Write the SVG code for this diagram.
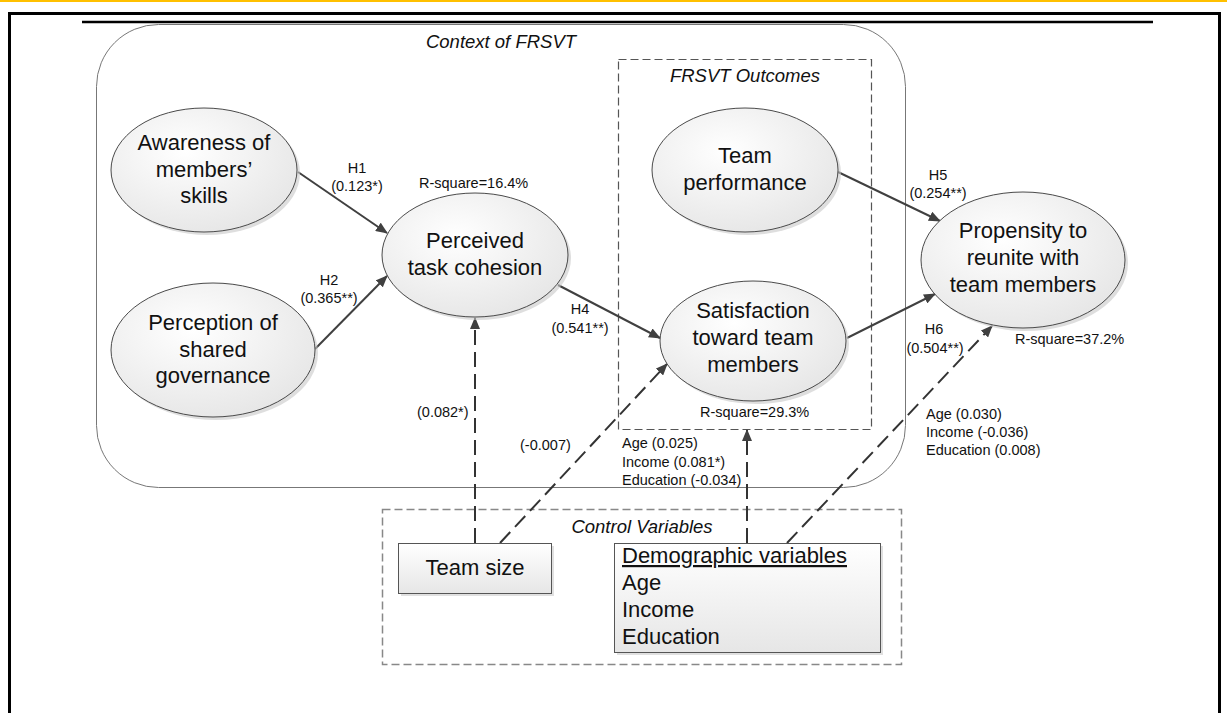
<svg xmlns="http://www.w3.org/2000/svg" width="1227" height="713" viewBox="0 0 1227 713">
<style>
text{font-family:"Liberation Sans",Arial,sans-serif;fill:#111}
.big{font-size:22px;text-anchor:middle}
.sm{font-size:14.5px}
.smc{font-size:14.5px;text-anchor:middle}
.ital{font-size:18.5px;font-style:italic;text-anchor:middle}
.ell{fill:url(#eg);stroke:#4a4a4a;stroke-width:1}
.shd{fill:#c8c8c8;opacity:0.6}
.box{fill:url(#bg);stroke:#555;stroke-width:1}
.solid{stroke:#404040;stroke-width:2;fill:none;marker-end:url(#ah)}
.dash{stroke:#333;stroke-width:2;fill:none;stroke-dasharray:15,7;marker-end:url(#ah)}
</style>
<defs>
<radialGradient id="eg" cx="0.4" cy="0.35" r="0.75">
<stop offset="0" stop-color="#ffffff"/>
<stop offset="1" stop-color="#e4e4e4"/>
</radialGradient>
<linearGradient id="bg" x1="0" y1="0" x2="0" y2="1">
<stop offset="0" stop-color="#ffffff"/>
<stop offset="1" stop-color="#e6e6e6"/>
</linearGradient>
<marker id="ah" viewBox="0 0 12 10" refX="11" refY="5" markerWidth="12" markerHeight="10" orient="auto" markerUnits="userSpaceOnUse">
<path d="M0,0 L12,5 L0,10 z" fill="#404040"/>
</marker>
</defs>
<rect x="0" y="0" width="1227" height="713" fill="#fff"/>
<rect x="0" y="0" width="1227" height="2" fill="#ffc000"/>
<rect x="9.5" y="13.5" width="1210" height="720" fill="none" stroke="#000" stroke-width="3"/>
<line x1="82" y1="22" x2="1153" y2="22" stroke="#000" stroke-width="2.5"/>

<g id="context">
<rect x="96.5" y="24.5" width="809" height="463" rx="62" ry="62" fill="none" stroke="#777" stroke-width="1"/>
<text class="ital" x="501" y="48">Context of FRSVT</text>
</g>
<g id="outcomes">
<rect x="618.5" y="59.5" width="253" height="370" fill="none" stroke="#555" stroke-width="1.2" stroke-dasharray="8,4"/>
<text class="ital" x="745" y="82">FRSVT Outcomes</text>
</g>
<g id="control">
<rect x="382.5" y="509.5" width="519" height="155" fill="none" stroke="#888" stroke-width="1.5" stroke-dasharray="8,4"/>
<text class="ital" x="642" y="533">Control Variables</text>
</g>

<g id="connectors">
<line class="solid" x1="298" y1="172" x2="387" y2="233"/>
<line class="solid" x1="315" y1="349" x2="387" y2="276"/>
<line class="solid" x1="558" y1="285" x2="660" y2="338"/>
<line class="solid" x1="838" y1="172" x2="940" y2="221"/>
<line class="solid" x1="847" y1="338" x2="935" y2="294"/>
<line class="dash" x1="475" y1="543" x2="475" y2="318"/>
<line class="dash" x1="500" y1="543" x2="667" y2="364"/>
<line class="dash" x1="747" y1="543" x2="747" y2="430"/>
<line class="dash" x1="787" y1="543" x2="992" y2="326"/>
<text class="smc" x="357" y="173">H1</text>
<text class="smc" x="357" y="191">(0.123*)</text>
<text class="smc" x="329" y="285">H2</text>
<text class="smc" x="329" y="303">(0.365**)</text>
<text class="smc" x="580" y="314">H4</text>
<text class="smc" x="580" y="333">(0.541**)</text>
<text class="smc" x="938" y="180">H5</text>
<text class="smc" x="938" y="198">(0.254**)</text>
<text class="smc" x="934" y="334">H6</text>
<text class="smc" x="935" y="353">(0.504**)</text>
<text class="sm" x="417" y="417">(0.082*)</text>
<text class="sm" x="520" y="450">(-0.007)</text>
<text class="sm" x="622" y="448">Age (0.025)</text>
<text class="sm" x="622" y="467">Income (0.081*)</text>
<text class="sm" x="622" y="485">Education (-0.034)</text>
<text class="sm" x="926" y="419">Age (0.030)</text>
<text class="sm" x="926" y="437">Income (-0.036)</text>
<text class="sm" x="926" y="455">Education (0.008)</text>
</g>

<g id="awareness">
<ellipse class="shd" cx="207" cy="173" rx="93" ry="62"/>
<ellipse class="ell" cx="204" cy="170" rx="93" ry="62"/>
<text class="big" x="204" y="150">Awareness of</text>
<text class="big" x="204" y="177">members’</text>
<text class="big" x="204" y="203">skills</text>
</g>
<g id="perception">
<ellipse class="shd" cx="216" cy="353" rx="102" ry="67"/>
<ellipse class="ell" cx="213" cy="350" rx="102" ry="67"/>
<text class="big" x="213" y="330">Perception of</text>
<text class="big" x="213" y="357">shared</text>
<text class="big" x="213" y="383">governance</text>
</g>
<g id="cohesion">
<ellipse class="shd" cx="478" cy="258" rx="93" ry="62"/>
<ellipse class="ell" cx="475" cy="255" rx="93" ry="62"/>
<text class="sm" x="419" y="188">R-square=16.4%</text>
<text class="big" x="475" y="248">Perceived</text>
<text class="big" x="475" y="275">task cohesion</text>
</g>
<g id="performance">
<ellipse class="shd" cx="748" cy="173" rx="93" ry="62"/>
<ellipse class="ell" cx="745" cy="170" rx="93" ry="62"/>
<text class="big" x="745" y="163">Team</text>
<text class="big" x="745" y="190">performance</text>
</g>
<g id="satisfaction">
<ellipse class="shd" cx="756" cy="344" rx="93" ry="60"/>
<ellipse class="ell" cx="753" cy="341" rx="93" ry="60"/>
<text class="big" x="753" y="318">Satisfaction</text>
<text class="big" x="753" y="345">toward team</text>
<text class="big" x="753" y="372">members</text>
<text class="sm" x="700" y="417">R-square=29.3%</text>
</g>
<g id="propensity">
<ellipse class="shd" cx="1026" cy="263" rx="102" ry="68"/>
<ellipse class="ell" cx="1023" cy="260" rx="102" ry="68"/>
<text class="big" x="1023" y="238">Propensity to</text>
<text class="big" x="1023" y="265">reunite with</text>
<text class="big" x="1023" y="292">team members</text>
<text class="sm" x="1015" y="344">R-square=37.2%</text>
</g>
<g id="teamsize">
<rect x="401" y="546" width="153" height="50" fill="#ccc" opacity="0.6"/>
<rect class="box" x="398.5" y="543.5" width="153" height="50"/>
<text class="big" x="475" y="575">Team size</text>
</g>
<g id="demographic">
<rect x="617" y="546" width="266" height="109" fill="#ccc" opacity="0.6"/>
<rect class="box" x="614.5" y="543.5" width="266" height="109"/>
<text x="622" y="563" style="font-size:22px;text-decoration:underline">Demographic variables</text>
<text x="622" y="590" style="font-size:22px">Age</text>
<text x="622" y="617" style="font-size:22px">Income</text>
<text x="622" y="644" style="font-size:22px">Education</text>
</g>
</svg>
